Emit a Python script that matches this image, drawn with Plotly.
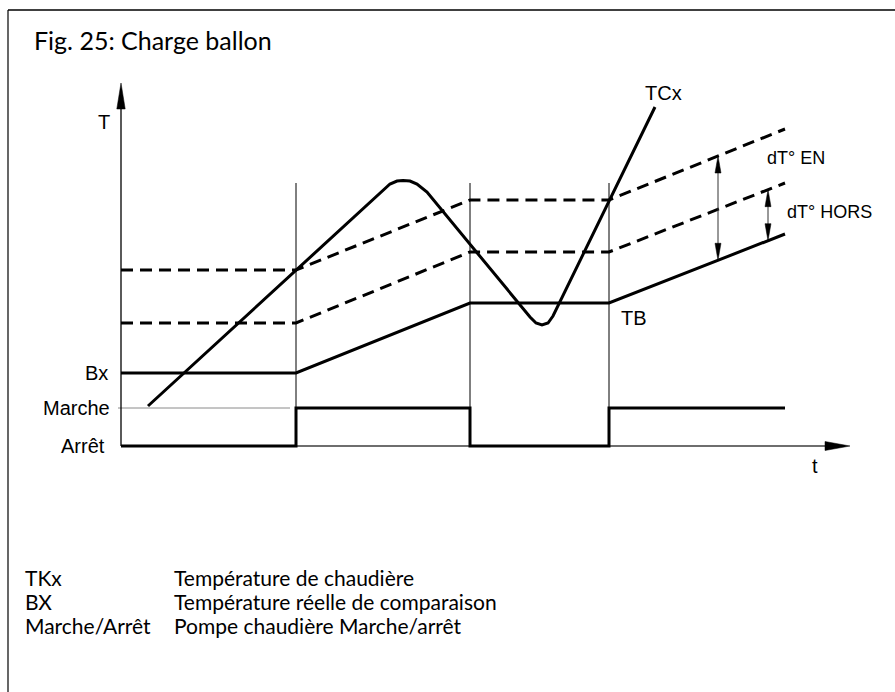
import numpy as np
import plotly.graph_objects as go

W, H = 895, 692

# Time axis (t) and temperature axis (T): 1 unit = 10 px, origin where the axes cross
X_RANGE = [-12.1, 77.4]
Y_RANGE = [-24.6, 44.6]

# --- diagram data -----------------------------------------------------------
t_points = [0, 17.5, 34.9, 48.8, 66.4]          # switching instants + end of chart
t_switch = [17.5, 34.9, 48.8]

tb = [7.3, 7.3, 14.3, 14.3, 21.2]               # TB / Bx comparison temperature
seuil_hors = [12.3, 12.3, 19.4, 19.4, 26.3]     # TB + dT° HORS
seuil_en = [17.6, 17.6, 24.6, 24.6, 31.7]       # TB + dT° EN

pompe_t = [0, 17.5, 17.5, 34.9, 34.9, 48.8, 48.8, 66.4]
pompe_etat = [0, 0, 3.8, 3.8, 0, 0, 3.8, 3.8]   # 0 = Arrêt, 3.8 = Marche
MARCHE, ARRET = 3.8, 0.0

tcx_t = [2.7, 25.9, 26.9, 27.6, 28.2, 28.9, 29.6, 30.6,
         40.9, 41.5, 42.1, 42.7, 43.2, 53.4]
tcx_T = [4.0, 25.3, 26.2, 26.5, 26.55, 26.5, 26.2, 25.4,
         12.9, 12.3, 12.1, 12.3, 13.0, 33.9]

T_AXIS_TOP = 36.3
t_AXIS_END = 72.9
SWITCH_TOP = 26.3
DT_EN_T = 59.7
DT_HORS_T = 64.7

fig = go.Figure()


def add_line(x, y, color="black", width=3, dash=None):
    fig.add_trace(go.Scatter(
        x=x, y=y, mode="lines",
        line=dict(color=color, width=width, dash=dash),
        hoverinfo="skip", showlegend=False))


def add_head(tx, ty, dx, dy, length, half, color="black"):
    """Filled triangular arrow head with its tip at (tx, ty) pointing along (dx, dy)."""
    n = np.hypot(dx, dy)
    ux, uy = dx / n, dy / n
    bx, by = tx - ux * length, ty - uy * length
    px, py = -uy * half, ux * half
    fig.add_trace(go.Scatter(
        x=[tx, bx + px, bx - px, tx], y=[ty, by + py, by - py, ty],
        mode="lines", fill="toself", fillcolor=color,
        line=dict(color=color, width=0.5),
        hoverinfo="skip", showlegend=False))


# thin construction lines
for ts in t_switch:
    add_line([ts, ts], [ARRET, SWITCH_TOP], width=1)
add_line([-0.3, 16.9], [MARCHE, MARCHE], color="#8a8a8a", width=1)

# axes
add_line([0, t_AXIS_END - 2.5], [0, 0], color="#6e6e6e", width=2)
add_head(t_AXIS_END, 0, 1, 0, 2.5, 0.45)
add_line([0, 0], [0, T_AXIS_TOP - 2.6], width=1.3)
add_head(0, T_AXIS_TOP, 0, 1, 2.6, 0.42)

# threshold curves
add_line(t_points, seuil_en, width=3, dash="12px,7px")
add_line(t_points, seuil_hors, width=3, dash="12px,7px")
add_line(t_points, tb, width=3)

# pump state
add_line(pompe_t, pompe_etat, width=3)

# boiler temperature
add_line(tcx_t, tcx_T, width=3)

# dT° arrows
for tx, upper in ((DT_EN_T, seuil_en), (DT_HORS_T, seuil_hors)):
    lo = float(np.interp(tx, t_points, tb))
    hi = float(np.interp(tx, t_points, upper))
    add_line([tx, tx], [lo + 1.6, hi - 1.6], color="#333333", width=1)
    add_head(tx, hi, 0, 1, 1.7, 0.3)
    add_head(tx, lo, 0, -1, 1.7, 0.3)

# --- text -------------------------------------------------------------------
ARIAL = "Liberation Sans, Arial, sans-serif"
HUMAN = "Lato, Open Sans, sans-serif"
annotations = []


def label(x, y, text, size=20, xanchor="left", font=ARIAL, xref="x", yref="y"):
    annotations.append(dict(
        x=x, y=y, xref=xref, yref=yref, text=text, showarrow=False,
        xanchor=xanchor, yanchor="middle",
        font=dict(family=font, size=size, color="black")))


label(-1.1, tb[0], "Bx", xanchor="right")
label(-0.9, MARCHE, "Marche", xanchor="right")
label(-1.4, ARRET, "Arrêt", xanchor="right")
label(-1.7, 32.4, "T", xanchor="center")
label(69.4, -2.0, "t", xanchor="center")
label(49.8, 12.8, "TB")
label(52.2, 35.3, "TCx")
label(64.4, 28.8, "dT° EN", size=18)
label(66.4, 23.4, "dT° HORS", size=18)

label(32 / W, 1 - 40 / H, "Fig. 25: Charge ballon", size=25,
      font=HUMAN, xref="paper", yref="paper")

legend_rows = [("TKx", "Température de chaudière"),
               ("BX", "Température réelle de comparaison"),
               ("Marche/Arrêt", "Pompe chaudière Marche/arrêt")]
for i, (code, desc) in enumerate(legend_rows):
    yy = 1 - (577 + 24 * i) / H
    label(23 / W, yy, code, size=21, font=HUMAN, xref="paper", yref="paper")
    label(172 / W, yy, desc, size=21, font=HUMAN, xref="paper", yref="paper")

# frame of the figure box
shapes = [
    dict(type="line", xref="paper", yref="paper", x0=8 / W, x1=1, y0=1 - 10 / H, y1=1 - 10 / H,
         line=dict(color="black", width=1.7)),
    dict(type="line", xref="paper", yref="paper", x0=8 / W, x1=8 / W, y0=1 - 10 / H, y1=0,
         line=dict(color="black", width=1.2)),
]

fig.update_layout(
    width=W, height=H,
    margin=dict(l=0, r=0, t=0, b=0),
    paper_bgcolor="white", plot_bgcolor="white",
    xaxis=dict(range=X_RANGE, visible=False, fixedrange=True),
    yaxis=dict(range=Y_RANGE, visible=False, fixedrange=True),
    annotations=annotations, shapes=shapes,
)

fig.write_html("out.html")
